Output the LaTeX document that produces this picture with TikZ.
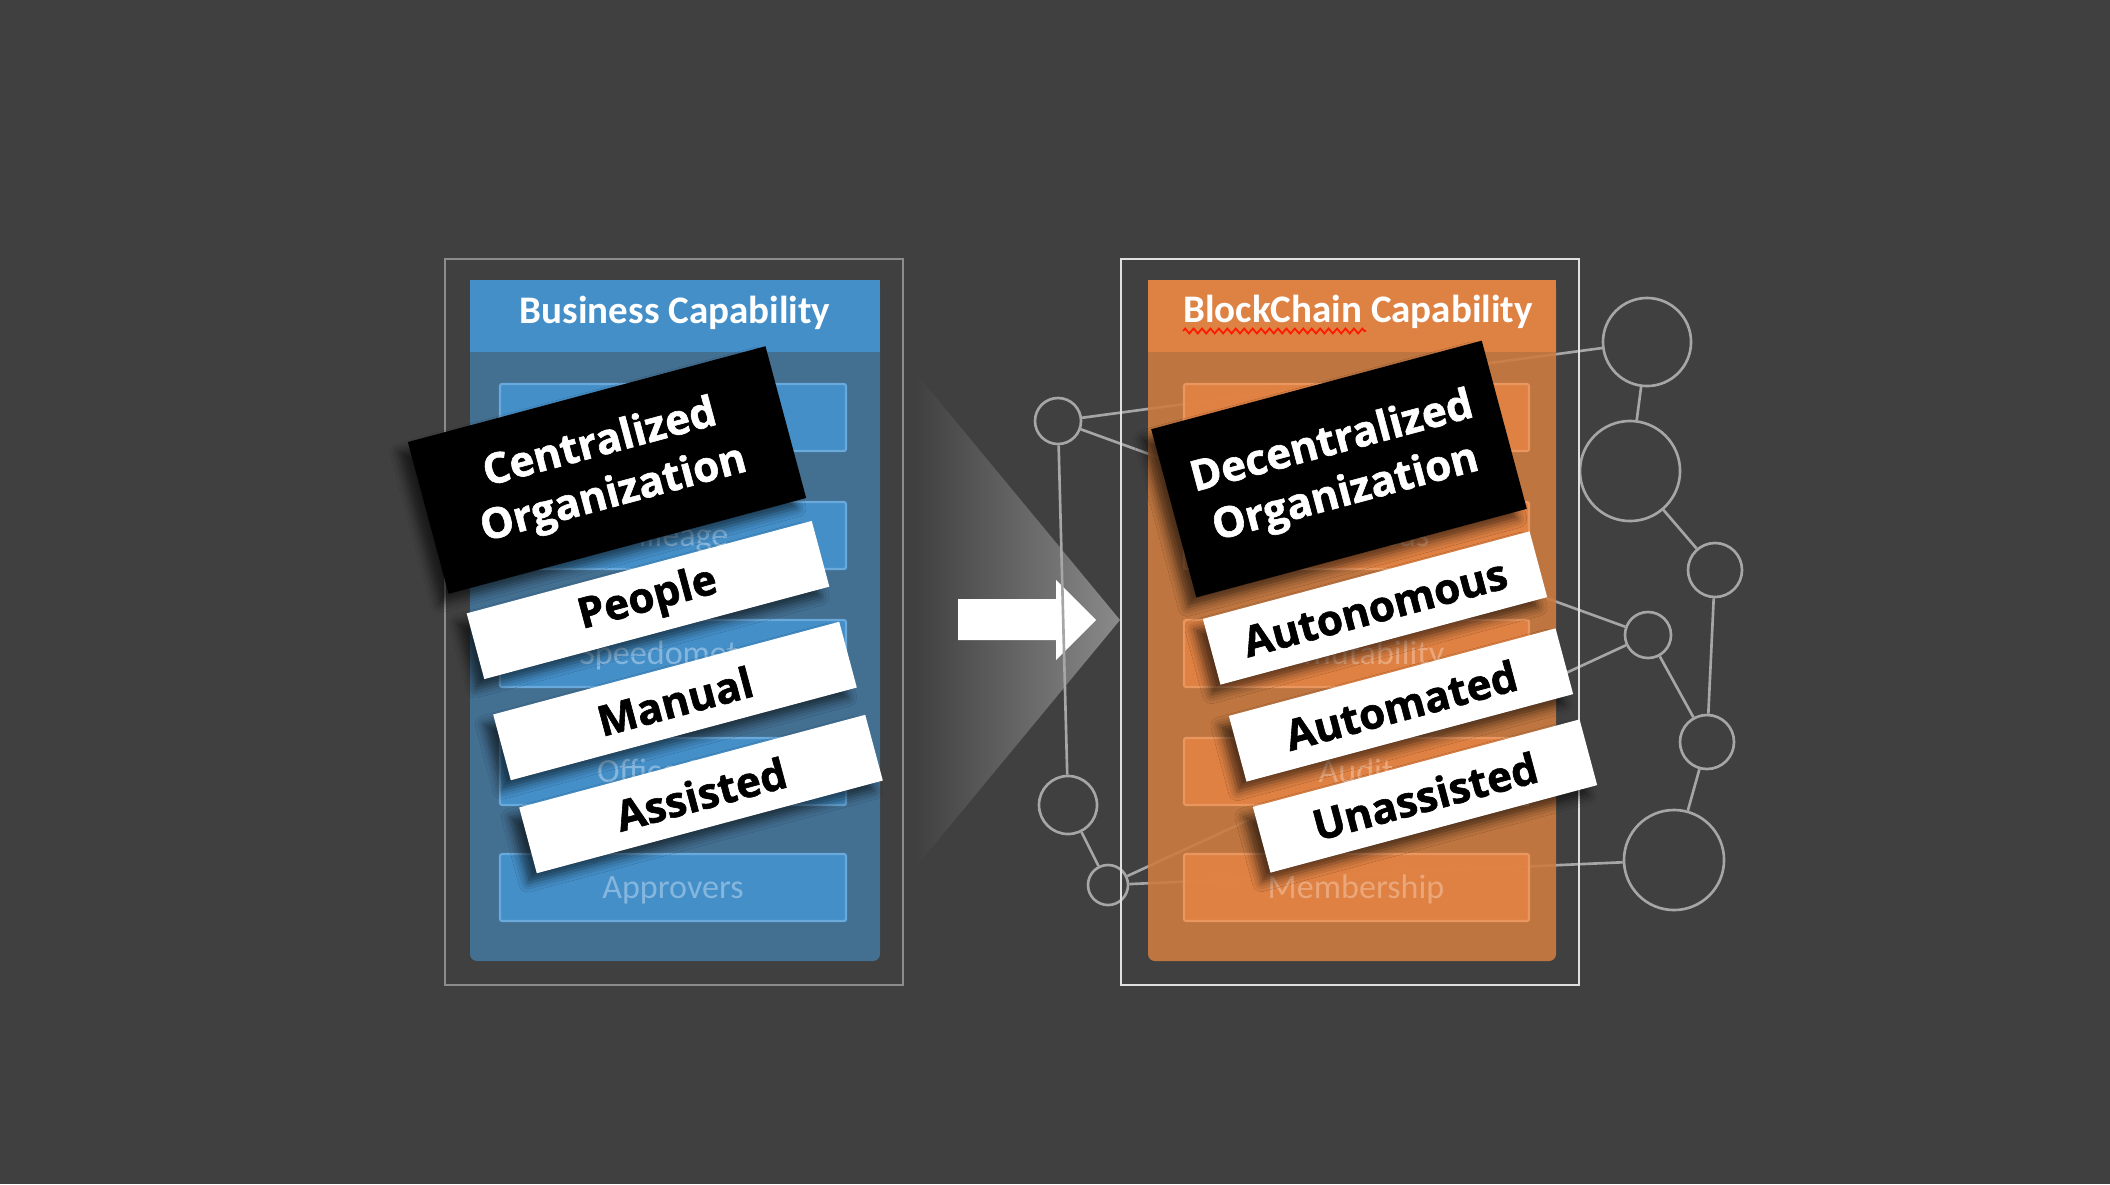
\documentclass[tikz,border=0pt]{standalone}
\usepackage{fontspec}
\setmainfont{Carlito}
\newfontfamily\tagfont{Open Sans}[BoldFeatures={FakeBold=1.4}]
\usetikzlibrary{shadows.blur,decorations.pathmorphing}
\definecolor{slate}{HTML}{404040}
\definecolor{boxgray}{HTML}{8C8C8C}
\definecolor{linkgray}{HTML}{A6A6A6}
\definecolor{fadegray}{HTML}{8A8A8A}
\definecolor{bizhead}{HTML}{448FC8}
\definecolor{bizbody}{HTML}{436F91}
\definecolor{bizrow}{HTML}{448FC8}
\definecolor{bizrowline}{HTML}{6AA9DB}
\definecolor{biztext}{HTML}{84B6DE}
\definecolor{chainhead}{HTML}{DE8244}
\definecolor{chainbody}{HTML}{CC7B40}
\definecolor{chainrow}{HTML}{E28344}
\definecolor{chainrowline}{HTML}{E9965F}
\definecolor{chaintext}{HTML}{EBA77A}
\tikzset{
  headtext/.style={text=white, font=\bfseries\fontsize{11.1}{13}\selectfont, inner sep=0, anchor=base},
  rowtext/.style={font=\fontsize{9.7}{11}\selectfont, inner sep=0, anchor=base},
  hub/.style={circle, draw=linkgray, line width=0.75pt, minimum size=#1, inner sep=0},
  link/.style={draw=linkgray, line width=0.75pt},
  tagbase/.style={rotate=15, inner sep=0, align=center,
    font=\tagfont\bfseries\fontsize{12}{15}\selectfont,
    blur shadow={shadow xshift=-0.09cm, shadow yshift=-0.1cm, shadow blur radius=0.09cm, shadow opacity=60}},
  tagdark/.style={tagbase, fill=black, text=white},
  taglight/.style={tagbase, fill=white, text=black, minimum width=3.45cm, minimum height=0.68cm},
}
\begin{document}
\begin{tikzpicture}[x=0.01cm, y=-0.01cm]
\useasboundingbox (0,0) rectangle (2110,1184);
\fill[slate] (0,0) rectangle (2110,1184);

% business side
\draw[boxgray, line width=0.6pt] (445,259) rectangle (903,985);
\fill[bizbody, rounded corners=0.07cm] (470,280) rectangle (880,961);
\fill[bizhead] (470,280) rectangle (880,352);
\node[headtext] (bizhead) at (675,323) {Business Capability};
\foreach \t in {384,502,620,738,854}
  \draw[fill=bizrow, draw=bizrowline, line width=0.6pt, rounded corners=0.02cm] (500,\t) rectangle (846,{\t+67});
\node[rowtext, text=biztext] (bizrowb) at (673,546) {Mileage};
\node[rowtext, text=biztext] (bizrowc) at (673,664) {Speedometer};
\node[rowtext, text=biztext] (bizrowd) at (673,782) {Office Staff};
\node[rowtext, text=biztext] (bizrowe) at (673,898) {Approvers};

% transition
\shade[left color=slate, right color=fadegray] (915,372) -- (1120,620) -- (915,868) -- cycle;
\fill[white] (958,599) -- (1056,599) -- (1056,580) -- (1096,620) -- (1056,660) -- (1056,640) -- (958,640) -- cycle;

% network
\node[hub=0.46cm] (n1) at (1058,421) {};
\node[hub=0.88cm] (n2) at (1647,342) {};
\node[hub=1.00cm] (n3) at (1630,471) {};
\node[hub=0.54cm] (n4) at (1715,570) {};
\node[hub=0.46cm] (n5) at (1648,635) {};
\node[hub=0.54cm] (n6) at (1707,742) {};
\node[hub=1.00cm] (n7) at (1674,860) {};
\node[hub=0.58cm] (n8) at (1068,805) {};
\node[hub=0.40cm] (n9) at (1108,885) {};
\draw[link] (n1) -- (n2);
\draw[link] (n1) -- (n5);
\draw[link] (n1) -- (n8);
\draw[link] (n8) -- (n9);
\draw[link] (n9) -- (n7);
\draw[link] (n9) -- (n5);
\draw[link] (n2) -- (n3);
\draw[link] (n3) -- (n4);
\draw[link] (n4) -- (n6);
\draw[link] (n5) -- (n6);
\draw[link] (n6) -- (n7);

% blockchain side
\draw[white!88!black, line width=0.6pt] (1121,259) rectangle (1579,985);
\fill[chainbody, fill opacity=0.9, rounded corners=0.07cm] (1148,280) rectangle (1556,961);
\fill[chainhead] (1148,280) rectangle (1556,352);
\node[headtext] (chainhead) at (1358,322) {BlockChain Capability};
\draw[red!80!orange, line width=0.5pt, decorate, decoration={zigzag, amplitude=0.7pt, segment length=2.4pt}] (1183,331) -- (1366,331);
\foreach \t in {384,502,620,738,854}
  \draw[fill=chainrow, fill opacity=0.9, draw=chainrowline, line width=0.6pt, rounded corners=0.02cm] (1184,\t) rectangle (1529,{\t+67});
\node[rowtext, text=chaintext] (chainrowb) at (1356,546) {Consensus};
\node[rowtext, text=chaintext] (chainrowc) at (1356,664) {Immutability};
\node[rowtext, text=chaintext] (chainrowd) at (1356,782) {Audit};
\node[rowtext, text=chaintext] (chainrowe) at (1356,898) {Membership};

% tags
\node[tagdark, minimum width=3.70cm, minimum height=1.57cm] (central) at (607,470) {Centralized\\Organization};
\node[taglight, minimum width=3.57cm] (people) at (648,600) {People};
\node[taglight, minimum width=3.58cm] (manual) at (675,701) {Manual};
\node[taglight, minimum width=3.58cm] (assisted) at (701,794) {Assisted};
\node[tagdark, minimum width=3.42cm, minimum height=1.74cm] (decentral) at (1339,469) {Decentralized\\Organization};
\node[taglight, minimum width=3.38cm] (autonomous) at (1375,608) {Autonomous};
\node[taglight, minimum width=3.38cm] (automated) at (1401,705) {Automated};
\node[taglight, minimum width=3.38cm] (unassisted) at (1425,796) {Unassisted};
\end{tikzpicture}
\end{document}
